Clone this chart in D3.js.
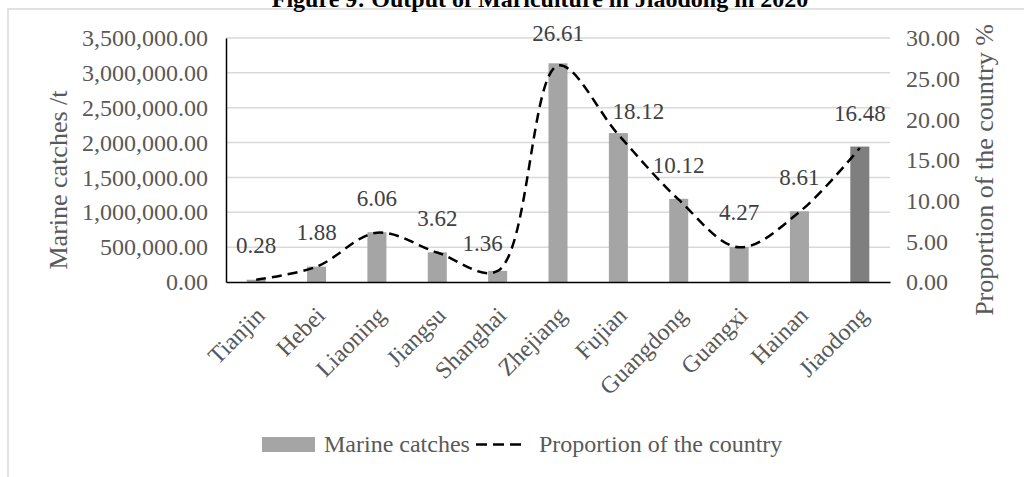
<!DOCTYPE html>
<html>
<head>
<meta charset="utf-8">
<script src="https://cdn.jsdelivr.net/npm/d3@7"></script>
<style>
  html, body { margin: 0; padding: 0; background: #fff; }
  svg { display: block; font-family: "Liberation Serif", "Times New Roman", serif; }
</style>
</head>
<body>
<svg id="chart" width="1024" height="477"></svg>
<script>
// Marine catches (t) and share of the national total (%) by region
const categories = ["Tianjin", "Hebei", "Liaoning", "Jiangsu", "Shanghai", "Zhejiang",
                    "Fujian", "Guangdong", "Guangxi", "Hainan", "Jiaodong"];
const catches = [33000, 221000, 714000, 426000, 160000, 3137000,
                 2136000, 1193000, 503000, 1015000, 1943000];
const proportion = [0.28, 1.88, 6.06, 3.62, 1.36, 26.61, 18.12, 10.12, 4.27, 8.61, 16.48];
const leftTicks = [0, 500000, 1000000, 1500000, 2000000, 2500000, 3000000, 3500000];
const rightTicks = [0, 5, 10, 15, 20, 25, 30];

// per-label nudges (dx, dy) for the percentage labels
const labelNudge = { Shanghai: [-15, 7], Zhejiang: [0, 2], Fujian: [20, 11] };

const svg = d3.select("#chart");
const plot = { left: 226, right: 890, top: 38, bottom: 282 };
const textColor = "#595959";

// outer chart frame
svg.append("rect")
  .attr("x", 8).attr("y", 9).attr("width", 1040).attr("height", 500)
  .attr("fill", "none").attr("stroke", "#d9d9d9").attr("stroke-width", 1.5);

// title
svg.append("text")
  .attr("x", 540).attr("y", 7)
  .attr("text-anchor", "middle")
  .attr("font-size", 24).attr("font-weight", "bold").attr("fill", "#000")
  .text("Figure 9: Output of Mariculture in Jiaodong in 2020");

const x = d3.scaleBand().domain(categories)
  .range([plot.left, plot.right]).paddingInner(0.685).paddingOuter(0.3425);
const xc = d => x(d) + x.bandwidth() / 2;
const yL = d3.scaleLinear().domain([0, 3500000]).range([plot.bottom, plot.top]);
const yR = d3.scaleLinear().domain([0, 30]).range([plot.bottom, plot.top]);

// gridlines
svg.append("g").selectAll("line").data(leftTicks.slice(1)).join("line")
  .attr("x1", plot.left).attr("x2", plot.right)
  .attr("y1", d => yL(d)).attr("y2", d => yL(d))
  .attr("stroke", "#d9d9d9").attr("stroke-width", 1.5);

// left axis
const fmtL = d3.format(",.2f");
const axL = svg.append("g").attr("transform", `translate(${plot.left},0)`)
  .call(d3.axisLeft(yL).tickValues(leftTicks).tickFormat(fmtL).tickSize(0).tickPadding(18));
axL.select(".domain").attr("stroke", "#000").attr("stroke-width", 1.5);
axL.selectAll("text").attr("font-size", 24).attr("fill", textColor)
  .attr("font-family", "Liberation Serif, serif");

// right axis
const fmtR = d3.format(".2f");
const axR = svg.append("g").attr("transform", `translate(${plot.right},0)`)
  .call(d3.axisRight(yR).tickValues(rightTicks).tickFormat(fmtR).tickSize(0).tickPadding(16));
axR.select(".domain").remove();
axR.selectAll("text").attr("font-size", 24).attr("fill", textColor)
  .attr("font-family", "Liberation Serif, serif");

// bars
svg.append("g").selectAll("rect").data(categories).join("rect")
  .attr("x", d => x(d))
  .attr("y", (d, i) => yL(catches[i]))
  .attr("width", x.bandwidth())
  .attr("height", (d, i) => plot.bottom - yL(catches[i]))
  .attr("fill", d => d === "Jiaodong" ? "#7f7f7f" : "#a5a5a5");

// bottom axis
const axB = svg.append("g").attr("transform", `translate(0,${plot.bottom})`)
  .call(d3.axisBottom(x).tickSize(0).tickPadding(0));
axB.select(".domain").attr("stroke", "#000").attr("stroke-width", 1.5);
axB.selectAll("text")
  .attr("font-size", 24).attr("fill", textColor)
  .attr("font-family", "Liberation Serif, serif")
  .attr("text-anchor", "end")
  .attr("dy", 0)
  .attr("transform", "translate(10,35) rotate(-45)");

// smoothed dashed proportion line
const line = d3.line()
  .x((d, i) => xc(categories[i]))
  .y(d => yR(d))
  .curve(d3.curveCatmullRom.alpha(0.5));
svg.append("path").datum(proportion)
  .attr("d", line)
  .attr("fill", "none").attr("stroke", "#000")
  .attr("stroke-width", 2.5).attr("stroke-dasharray", "10,6");

// percentage labels
svg.append("g").selectAll("text").data(categories).join("text")
  .attr("x", d => xc(d) + (labelNudge[d] ? labelNudge[d][0] : 0))
  .attr("y", (d, i) => yR(proportion[i]) - 35 + (labelNudge[d] ? labelNudge[d][1] : 0))
  .attr("dy", "0.35em")
  .attr("text-anchor", "middle")
  .attr("font-size", 23).attr("fill", "#404040")
  .text((d, i) => fmtR(proportion[i]));

// axis titles
svg.append("text")
  .attr("transform", "translate(67,180) rotate(-90)")
  .attr("text-anchor", "middle")
  .attr("font-size", 26).attr("fill", textColor)
  .text("Marine catches /t");
svg.append("text")
  .attr("transform", "translate(993,170) rotate(-90)")
  .attr("text-anchor", "middle")
  .attr("font-size", 26).attr("fill", textColor)
  .text("Proportion of the country %");

// legend
const lg = svg.append("g");
lg.append("rect").attr("x", 262).attr("y", 437).attr("width", 53).attr("height", 15)
  .attr("fill", "#a5a5a5");
lg.append("text").attr("x", 324).attr("y", 452)
  .attr("font-size", 24).attr("fill", textColor).text("Marine catches");
lg.append("line").attr("x1", 476).attr("x2", 524).attr("y1", 444.5).attr("y2", 444.5)
  .attr("stroke", "#000").attr("stroke-width", 2.5).attr("stroke-dasharray", "11,6");
lg.append("text").attr("x", 539).attr("y", 452)
  .attr("font-size", 24).attr("fill", textColor).text("Proportion of the country");
</script>
</body>
</html>
